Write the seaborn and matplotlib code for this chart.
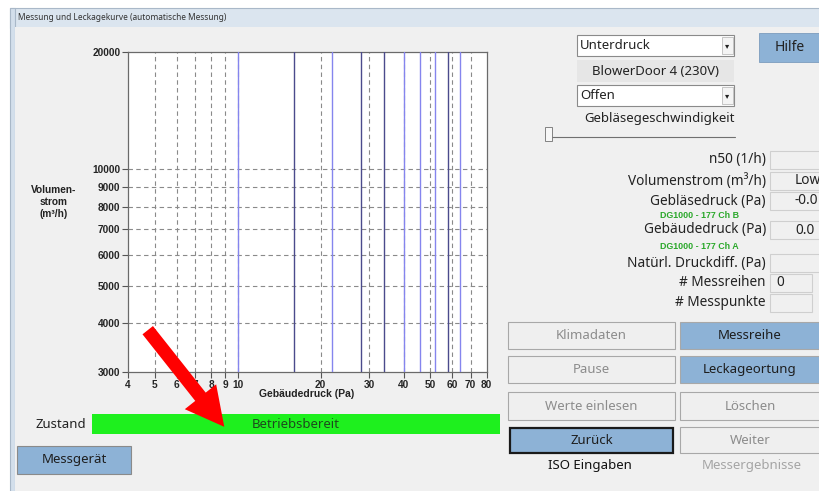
import matplotlib
matplotlib.use("Agg")
import matplotlib.pyplot as plt
from matplotlib.patches import Rectangle, FancyArrowPatch
from matplotlib.ticker import FixedLocator, FixedFormatter, NullLocator
import seaborn as sns
import pandas as pd

# Daten
x_ticks = [4, 5, 6, 7, 8, 9, 10, 20, 30, 40, 50, 60, 70, 80]
y_ticks = [3000, 4000, 5000, 6000, 7000, 8000, 9000, 10000, 20000]
y_grid = [4000, 5000, 6000, 7000, 8000, 9000, 10000]
druckstufen = [10, 16, 22, 28, 34, 40, 46, 52, 58, 64]
stufen_typ = ["hell", "dunkel", "hell", "dunkel", "dunkel", "hell", "hell", "hell", "dunkel", "hell"]
x_range = (4, 80)
y_range = (3000, 20000)

W, H = 820, 491
FS = 9.5
sns.set_style("white")
plt.rcParams["font.family"] = ["Noto Sans", "DejaVu Sans"]

fig = plt.figure(figsize=(W / 100, H / 100), dpi=100)
fig.patch.set_facecolor("white")

# Hintergrund-Achse in Pixelkoordinaten
bg = fig.add_axes([0, 0, 1, 1], zorder=0)
bg.set_xlim(0, W)
bg.set_ylim(H, 0)
bg.axis("off")

BLUE_BTN = "#8db2d6"
GRAY_BG = "#f0f0f0"


def rect(x0, y0, x1, y1, fc, ec="none", lw=1.0, z=1):
    bg.add_patch(Rectangle((x0, y0), x1 - x0, y1 - y0, facecolor=fc,
                           edgecolor=ec, linewidth=lw, zorder=z))


def txt(x, y, s, size=FS, ha="center", color="#222222", weight="normal", family=None):
    kw = {}
    if family:
        kw["family"] = family
    bg.text(x, y, s, fontsize=size, ha=ha, va="center", color=color,
            weight=weight, zorder=5, **kw)


# Fensterrahmen
rect(10, 8, W + 2, 28, "#dbe5ef", ec="#a9b8c8", lw=0.8)
rect(10, 8, 15, H + 2, "#d3dfeb", ec="#a9b8c8", lw=0.8)
rect(15, 27, W + 2, H + 2, GRAY_BG)
txt(18, 17, "Messung und Leckagekurve (automatische Messung)", size=6, ha="left", color="#333333")

# rechte Bedienelemente
rect(577, 35, 734, 56, "white", ec="#8a8a8a", lw=0.8)
rect(722, 37, 733, 54, "#f4f4f4", ec="#b0b0b0", lw=0.5)
txt(727.5, 46, "▾", size=6)
txt(580, 45.5, "Unterdruck", ha="left")
rect(577, 60, 734, 82, "#e6e6e6")
txt(655.5, 71, "BlowerDoor 4 (230V)")
rect(577, 85, 734, 106, "white", ec="#8a8a8a", lw=0.8)
rect(722, 87, 733, 104, "#f4f4f4", ec="#b0b0b0", lw=0.5)
txt(727.5, 96, "▾", size=6)
txt(580, 95.5, "Offen", ha="left")
txt(660, 118, "Gebläsegeschwindigkeit")
bg.plot([547, 735], [137, 137], color="#707070", lw=0.8, zorder=3)
rect(545, 127, 552, 141, "#f7f7f7", ec="#707070", lw=0.6, z=4)
rect(759, 33, W + 2, 62, BLUE_BTN, ec="#7c9cbd", lw=0.6)
txt(790, 47, "Hilfe", size=10)

labels = [("n50 (1/h)", 160, ""), ("Volumenstrom (m³/h)", 181, "Low"),
          ("Gebläsedruck (Pa)", 201, "-0.0"), ("Gebäudedruck (Pa)", 230, "0.0"),
          ("Natürl. Druckdiff. (Pa)", 263, ""), ("# Messreihen", 283, "0"),
          ("# Messpunkte", 303, "")]
for name, yc, val in labels:
    txt(766, yc, name, ha="right", size=9.8)
    x1 = 812 if name.startswith("#") else W + 2
    rect(770, yc - 9, x1, yc + 9, GRAY_BG, ec="#cfcfcf", lw=0.8)
    if val:
        txt(776 if val == "0" else 795, yc, val, ha="left", size=9.8)
txt(660, 215, "DG1000 - 177 Ch B", ha="left", size=6.4, color="#2aa82a", weight="bold",
    family="Liberation Sans")
txt(660, 246, "DG1000 - 177 Ch A", ha="left", size=6.4, color="#2aa82a", weight="bold",
    family="Liberation Sans")

buttons = [("Klimadaten", 508, 322, 675, 349, False), ("Messreihe", 680, 322, W + 2, 349, True),
           ("Pause", 508, 356, 675, 383, False), ("Leckageortung", 680, 356, W + 2, 383, True),
           ("Werte einlesen", 508, 392, 675, 420, False), ("Löschen", 680, 392, W + 2, 420, False)]
for name, x0, y0, x1, y1, aktiv in buttons:
    rect(x0, y0, x1, y1, BLUE_BTN if aktiv else "#efefef", ec="#a8a8a8", lw=0.8)
    txt((x0 + x1) / 2 if x1 < 800 else 750, (y0 + y1) / 2, name,
        color="#1e1e1e" if aktiv else "#8c8c8c")
rect(510, 428, 673, 453, BLUE_BTN, ec="#1a1a1a", lw=1.6)
txt(591.5, 440.5, "Zurück", color="#1e1e1e")
rect(680, 427, W + 2, 453, "#efefef", ec="#a8a8a8", lw=0.8)
txt(750, 440, "Weiter", color="#8c8c8c")
txt(590, 466, "ISO Eingaben", color="#111111")
txt(752, 466, "Messergebnisse", color="#a5a5a5")

# Zustand
txt(86, 424, "Zustand", ha="right")
rect(92, 414, 500, 434, "#1ef01e")
txt(296, 424, "Betriebsbereit", color="#1d4a1d")
rect(17, 446, 131, 474, BLUE_BTN, ec="#8a8a8a", lw=0.8)
txt(74, 460, "Messgerät", color="#1e1e1e")

# Diagramm
ax = fig.add_axes([128 / W, 1 - 372 / H, 358.7 / W, 320 / H], zorder=2)
ax.set_facecolor("white")
ax.set_xscale("log")
ax.set_yscale("log")

df = pd.DataFrame({
    "druck": [p for p in druckstufen for _ in range(2)],
    "strom": [y_range[0], y_range[1]] * len(druckstufen),
    "typ": [t for t in stufen_typ for _ in range(2)],
})
sns.lineplot(data=df, x="druck", y="strom", units="druck", hue="typ",
             palette={"hell": "#8585ee", "dunkel": "#4b4b8c"}, estimator=None,
             lw=1.0, legend=False, ax=ax, zorder=3)

for xv in x_ticks[1:-1]:
    ax.axvline(xv, color="#8a8a8a", lw=0.8, ls=(0, (4, 3)), zorder=1)
for yv in y_grid:
    ax.axhline(yv, color="#8a8a8a", lw=0.8, ls=(0, (4, 3)), zorder=1)

ax.set_xlim(*x_range)
ax.set_ylim(*y_range)
ax.xaxis.set_major_locator(FixedLocator(x_ticks))
ax.xaxis.set_major_formatter(FixedFormatter([str(v) for v in x_ticks]))
ax.xaxis.set_minor_locator(NullLocator())
ax.yaxis.set_major_locator(FixedLocator(y_ticks))
ax.yaxis.set_major_formatter(FixedFormatter([str(v) for v in y_ticks]))
ax.yaxis.set_minor_locator(NullLocator())
ax.tick_params(axis="both", direction="out", length=4, width=0.8, color="#555555",
               labelsize=7.3, pad=1.5, bottom=True, left=True)
for lab in ax.get_xticklabels() + ax.get_yticklabels():
    lab.set_fontweight("bold")
    lab.set_family("Liberation Sans")
for sp in ax.spines.values():
    sp.set_color("#6a6a6a")
    sp.set_linewidth(0.9)
ax.set_xlabel("")
ax.set_ylabel("")

fig.text(307 / W, 1 - 394 / H, "Gebäudedruck (Pa)", ha="center", va="center",
         fontsize=7.5, weight="bold", family="Liberation Sans", color="#222222")
fig.text(54 / W, 1 - 202 / H, "Volumen-\nstrom\n(m³/h)", ha="center", va="center",
         fontsize=7.3, weight="bold", family="Liberation Sans", color="#222222",
         linespacing=1.2)

# roter Pfeil
fg = fig.add_axes([0, 0, 1, 1], zorder=5)
fg.set_xlim(0, W)
fg.set_ylim(H, 0)
fg.axis("off")
fg.patch.set_alpha(0)
fg.add_patch(FancyArrowPatch((146, 328), (226, 429),
                             arrowstyle="simple,head_length=2.3,head_width=2.4,tail_width=0.8",
                             mutation_scale=12, color="#ff0000", lw=0))

fig.savefig("out.png", dpi=100)
